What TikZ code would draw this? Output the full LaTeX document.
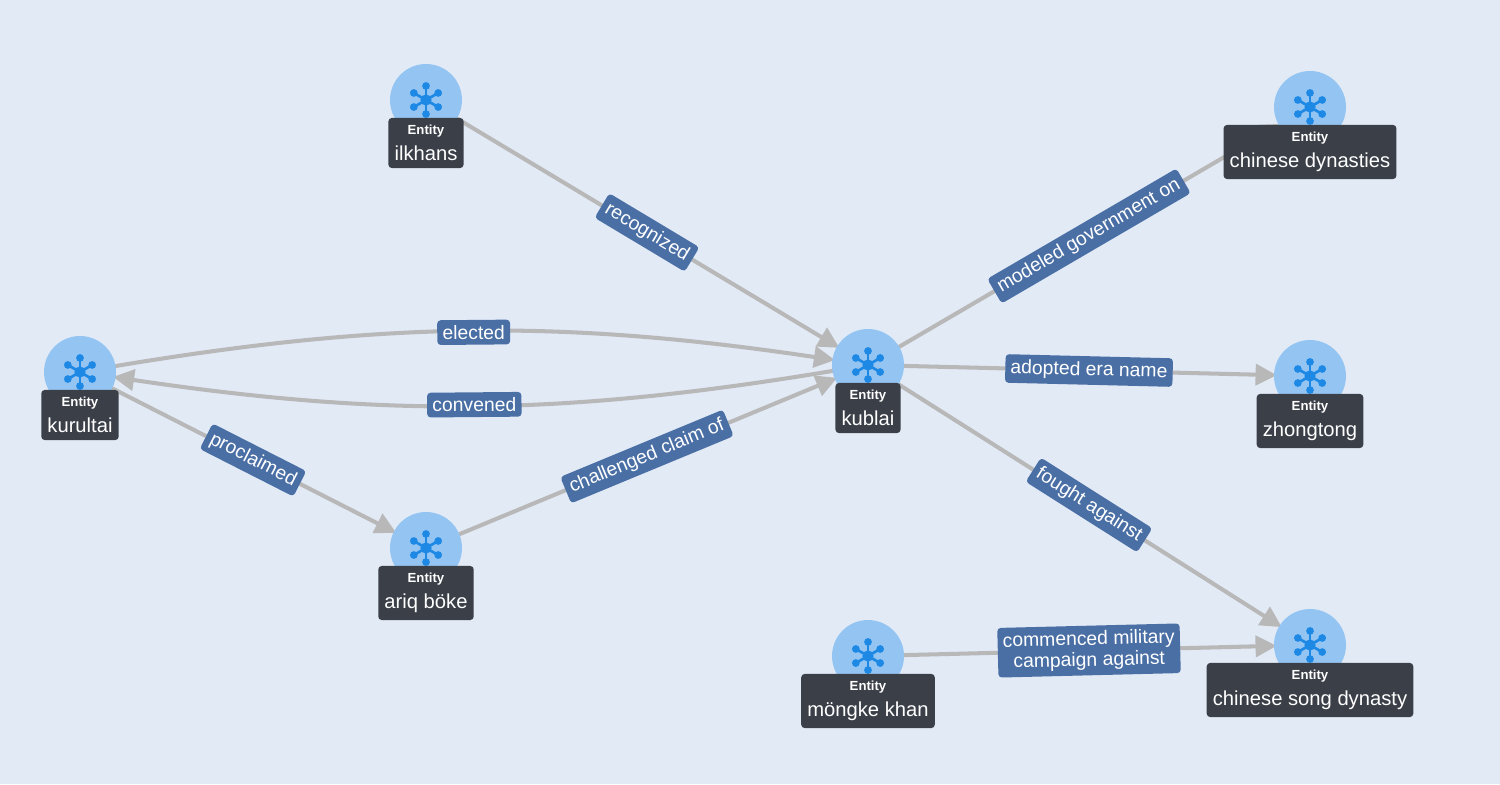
\documentclass[tikz,border=0pt]{standalone}
\usepackage{fontspec}
\setmainfont{Liberation Sans}
\usetikzlibrary{arrows.meta}
\definecolor{bgc}{HTML}{E2EAF6}
\definecolor{disc}{HTML}{93C4F2}
\definecolor{hubc}{HTML}{1E88E5}
\definecolor{tagc}{HTML}{3B3F48}
\definecolor{edc}{HTML}{B8B8B8}
\definecolor{lbc}{HTML}{4A6FA5}
\newcommand{\entity}[3]{%
  \node [en] (#1) at (#2) {};
  \foreach \a in {30,90,...,330} {
    \draw [hubc,line width=1.5pt] (#1.center) -- ++(\a:8pt);
    \fill [hubc] (#1.center) ++(\a:8pt) circle (2.2pt);
  }
  \fill [hubc] (#1.center) circle (3.2pt);
  \node [tag] (#1-tag) at ([yshift=-10pt]#1.center) {{\fontsize{7.5}{9}\selectfont\bfseries Entity}\\[1pt]#3};
}
\begin{document}
\begin{tikzpicture}[x=0.02cm,y=-0.02cm]
\tikzstyle{en}=[circle,fill=disc,minimum size=1.44cm,inner sep=0pt]
\tikzstyle{tag}=[anchor=north,fill=tagc,text=white,rounded corners=2pt,align=center,font=\fontsize{11.5}{14}\selectfont,inner xsep=3.5pt,inner ysep=4pt]
\tikzstyle{ed}=[draw=edc,line width=2.3pt,-{Triangle[length=12pt,width=12pt]},shorten <=19pt,shorten >=19pt]
\tikzstyle{lb}=[fill=lbc,text=white,rounded corners=2pt,font=\fontsize{11}{12}\selectfont,inner sep=3pt,midway,sloped,align=center]
\fill [bgc] (0,0) rectangle (1500,784);
\coordinate (ilkhans) at (426,100);
\coordinate (dyn) at (1310,107);
\coordinate (kurultai) at (80,372);
\coordinate (kublai) at (868,365);
\coordinate (zhongtong) at (1310,376);
\coordinate (ariq) at (426,548);
\coordinate (mongke) at (868,656);
\coordinate (song) at (1310,645);
% edges first, nodes on top
\draw [ed] (ilkhans) -- (kublai) node [lb] {recognized};
\draw [ed] (kurultai) to [bend left=9] node [lb] {elected} (kublai);
\draw [ed] (kublai) to [bend left=9] node [lb] {convened} (kurultai);
\draw [ed] (kurultai) -- (ariq) node [lb] {proclaimed};
\draw [ed] (ariq) -- (kublai) node [lb] {challenged claim of};
\draw [ed] (kublai) -- (dyn) node [lb] {modeled government on};
\draw [ed] (kublai) -- (zhongtong) node [lb] {adopted era name};
\draw [ed] (kublai) -- (song) node [lb] {fought against};
\draw [ed] (mongke) -- (song) node [lb] {commenced military\\campaign against};
\entity{n1}{ilkhans}{ilkhans}
\entity{n2}{dyn}{chinese dynasties}
\entity{n3}{kurultai}{kurultai}
\entity{n4}{kublai}{kublai}
\entity{n5}{zhongtong}{zhongtong}
\entity{n6}{ariq}{ariq böke}
\entity{n7}{mongke}{möngke khan}
\entity{n8}{song}{chinese song dynasty}
\end{tikzpicture}
\end{document}
